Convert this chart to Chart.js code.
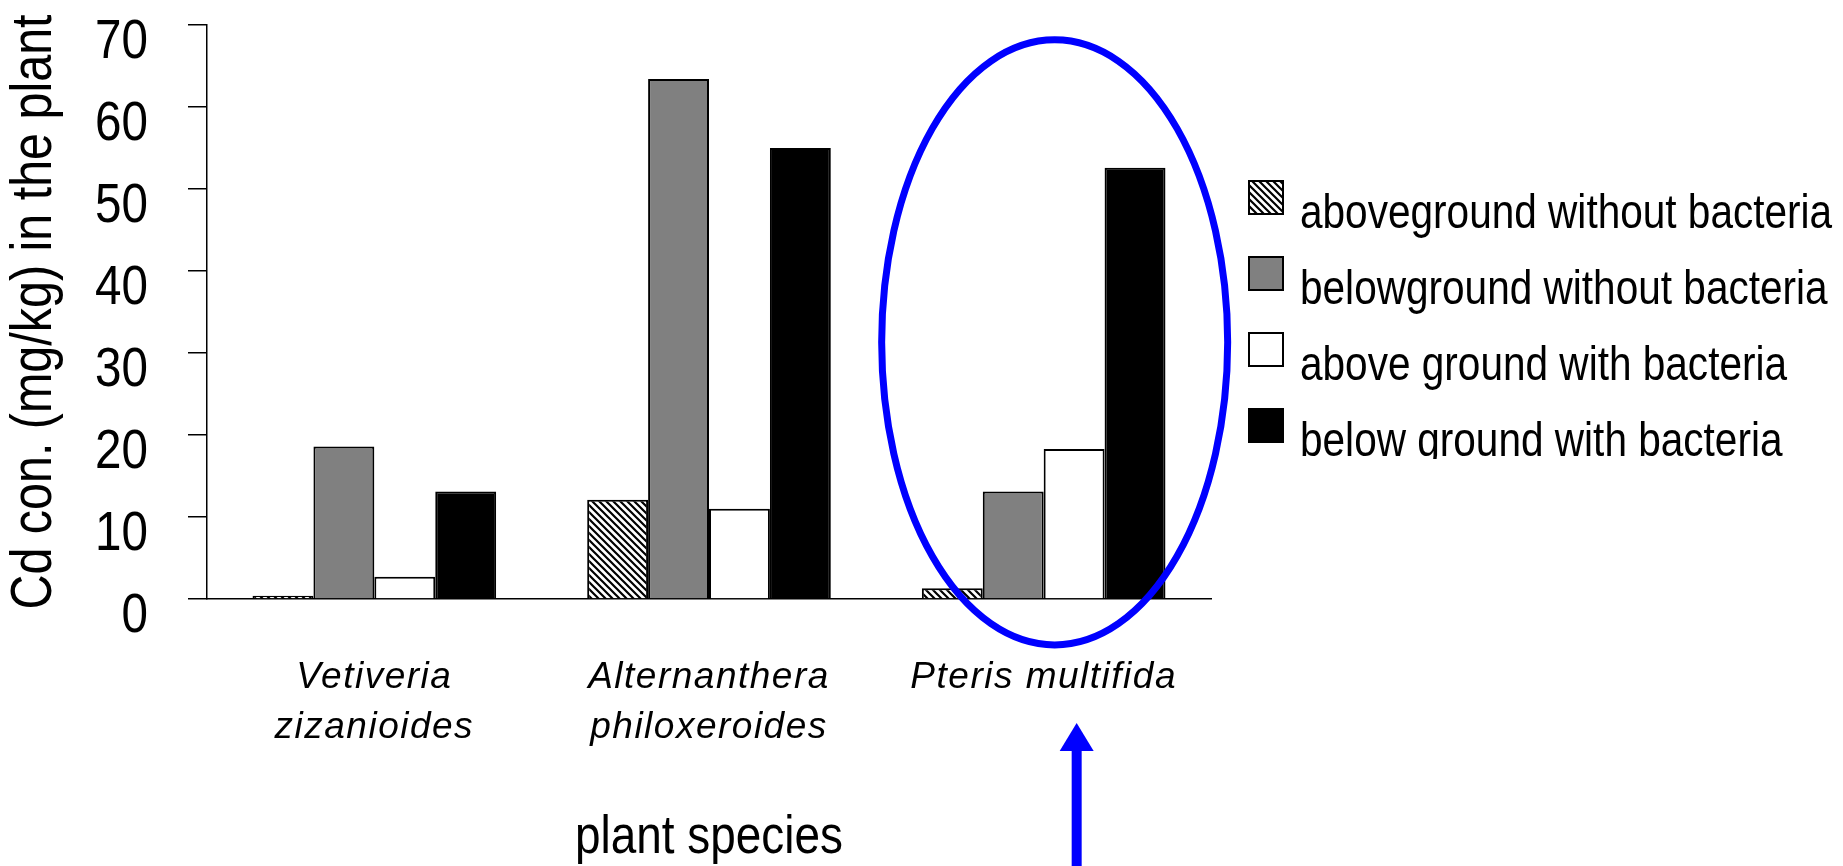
<!DOCTYPE html>
<html>
<head>
<meta charset="utf-8">
<script src="https://cdn.jsdelivr.net/npm/chart.js@4.4.1/dist/chart.umd.min.js"></script>
<style>
  html, body { margin: 0; padding: 0; background: #fff; overflow: hidden; }
  #wrap { width: 1843px; height: 866px; }
</style>
</head>
<body>
<div id="wrap"><canvas id="CdChart"></canvas></div>
<script>
(function () {
  "use strict";

  // Data
  const species      = [['Vetiveria', 'zizanioides'], ['Alternanthera', 'philoxeroides'], 'Pteris multifida'];
  const seriesLabels = ['aboveground without bacteria', 'belowground without bacteria',
                        'above ground with bacteria', 'below ground with bacteria'];
  const aboveNoBact  = [0.4, 12.1, 1.3];
  const belowNoBact  = [18.6, 63.4, 13.1];
  const aboveBact    = [2.7, 11.0, 18.3];
  const belowBact    = [13.1, 55.0, 52.6];
  const yTicks       = [0, 10, 20, 30, 40, 50, 60, 70];

  const sans = "'Liberation Sans', Arial, sans-serif";
  const blue = '#0000ff';

  // Diagonal hatch for the first series
  function hatch() {
    const c = document.createElement('canvas');
    c.width = 7; c.height = 7;
    const g = c.getContext('2d');
    g.fillStyle = '#fff';
    g.fillRect(0, 0, 7, 7);
    g.strokeStyle = '#000';
    g.lineWidth = 2.2;
    g.beginPath();
    g.moveTo(0, 0); g.lineTo(7, 7);
    g.moveTo(-3.5, 3.5); g.lineTo(3.5, 10.5);
    g.moveTo(3.5, -3.5); g.lineTo(10.5, 3.5);
    g.stroke();
    return g.createPattern(c, 'repeat');
  }

  const canvas = document.getElementById('CdChart');
  const ctx = canvas.getContext('2d');

  // The original uses a narrow face; no narrow font is installed, so upright
  // text is squeezed horizontally through fillText's maxWidth argument.
  // The italic species names are spaced out a little instead.
  let squeeze = 0.85;
  const rawFillText = ctx.fillText.bind(ctx);
  ctx.fillText = function (text, x, y, maxWidth) {
    const italic = /italic/.test(ctx.font);
    const oldSpacing = ctx.letterSpacing;
    if (italic) ctx.letterSpacing = '1.5px';
    const w = ctx.measureText(text).width * (italic ? 1 : squeeze);
    rawFillText(text, x, y, maxWidth === undefined ? w : Math.min(maxWidth, w));
    ctx.letterSpacing = oldSpacing;
  };

  // Legend drawn by hand (text sits lower than the boxes, last row clipped)
  const sideLegend = {
    id: 'sideLegend',
    afterDraw(chart) {
      const c = chart.ctx;
      const x0 = chart.chartArea.right + 38;
      c.save();
      c.beginPath();
      c.rect(0, 0, chart.width, 459);
      c.clip();
      squeeze = 0.845;
      chart.data.datasets.forEach(function (ds, i) {
        const y = 181 + i * 76;
        c.fillStyle = ds.backgroundColor;
        c.fillRect(x0, y, 34, 33);
        c.lineWidth = 2;
        c.strokeStyle = '#000';
        c.strokeRect(x0, y, 34, 33);
        c.fillStyle = '#000';
        c.font = '48px ' + sans;
        c.textAlign = 'left';
        c.textBaseline = 'alphabetic';
        c.fillText(ds.label, x0 + 51, y + 47);
      });
      squeeze = 0.85;
      c.restore();
    }
  };

  // Blue ellipse round the third species and the arrow under it
  const highlight = {
    id: 'highlight',
    afterDraw(chart) {
      const c = chart.ctx;
      const xs = chart.scales.x, ys = chart.scales.y;
      const cx = xs.getPixelForValue(2) + 11;
      const top = ys.getPixelForValue(68.2), bot = ys.getPixelForValue(-5.6);
      c.save();
      c.strokeStyle = blue;
      c.lineWidth = 7;
      c.beginPath();
      c.ellipse(cx, (top + bot) / 2, 173, (bot - top) / 2, 0, 0, Math.PI * 2);
      c.stroke();

      const ax = xs.getPixelForValue(2) + 33;
      const tip = 723;
      c.fillStyle = blue;
      c.fillRect(ax - 5, tip + 20, 10, chart.height - tip - 20);
      c.beginPath();
      c.moveTo(ax, tip);
      c.lineTo(ax + 17, tip + 28);
      c.lineTo(ax - 17, tip + 28);
      c.closePath();
      c.fill();
      c.restore();
    }
  };

  const common = { borderColor: '#000', borderWidth: 2, categoryPercentage: 0.728, barPercentage: 1 };

  new Chart(ctx, {
    type: 'bar',
    data: {
      labels: species,
      datasets: [
        Object.assign({ label: seriesLabels[0], data: aboveNoBact, backgroundColor: hatch() }, common),
        Object.assign({ label: seriesLabels[1], data: belowNoBact, backgroundColor: '#808080' }, common),
        Object.assign({ label: seriesLabels[2], data: aboveBact,   backgroundColor: '#ffffff' }, common),
        Object.assign({ label: seriesLabels[3], data: belowBact,   backgroundColor: '#000000' }, common)
      ]
    },
    options: {
      responsive: true,
      maintainAspectRatio: false,
      animation: false,
      layout: { padding: { top: 25, right: 632, left: 0, bottom: 0 } },
      plugins: {
        legend: { display: false },
        tooltip: { enabled: false }
      },
      scales: {
        x: {
          afterFit: function (s) { s.height = 267; },
          grid: { display: false },
          border: { color: '#000', width: 1.5 },
          ticks: {
            color: '#000',
            padding: 46,
            font: { family: sans, size: 37, style: 'italic', lineHeight: 1.35 }
          },
          title: {
            display: true,
            text: 'plant species',
            color: '#000',
            padding: 0,
            font: { family: sans, size: 54, lineHeight: 1.05 }
          }
        },
        y: {
          min: 0,
          max: 70,
          afterFit: function (s) {
            s.width = 207;
            s.paddingTop = 0;
            s.paddingBottom = 0;
          },
          afterBuildTicks: function (s) { s.ticks = yTicks.map(function (v) { return { value: v }; }); },
          border: { color: '#000', width: 1.5 },
          grid: { drawOnChartArea: false, drawTicks: true, tickLength: 19, color: '#000', lineWidth: 1.5 },
          ticks: {
            color: '#000',
            padding: 40,
            labelOffset: 18,
            font: { family: sans, size: 56, lineHeight: 0.8 }
          },
          title: {
            display: true,
            text: 'Cd con. (mg/kg) in the plant',
            color: '#000',
            padding: { top: 1, bottom: 0 },
            font: { family: sans, size: 57 }
          }
        }
      }
    },
    plugins: [sideLegend, highlight]
  });
})();
</script>
</body>
</html>
